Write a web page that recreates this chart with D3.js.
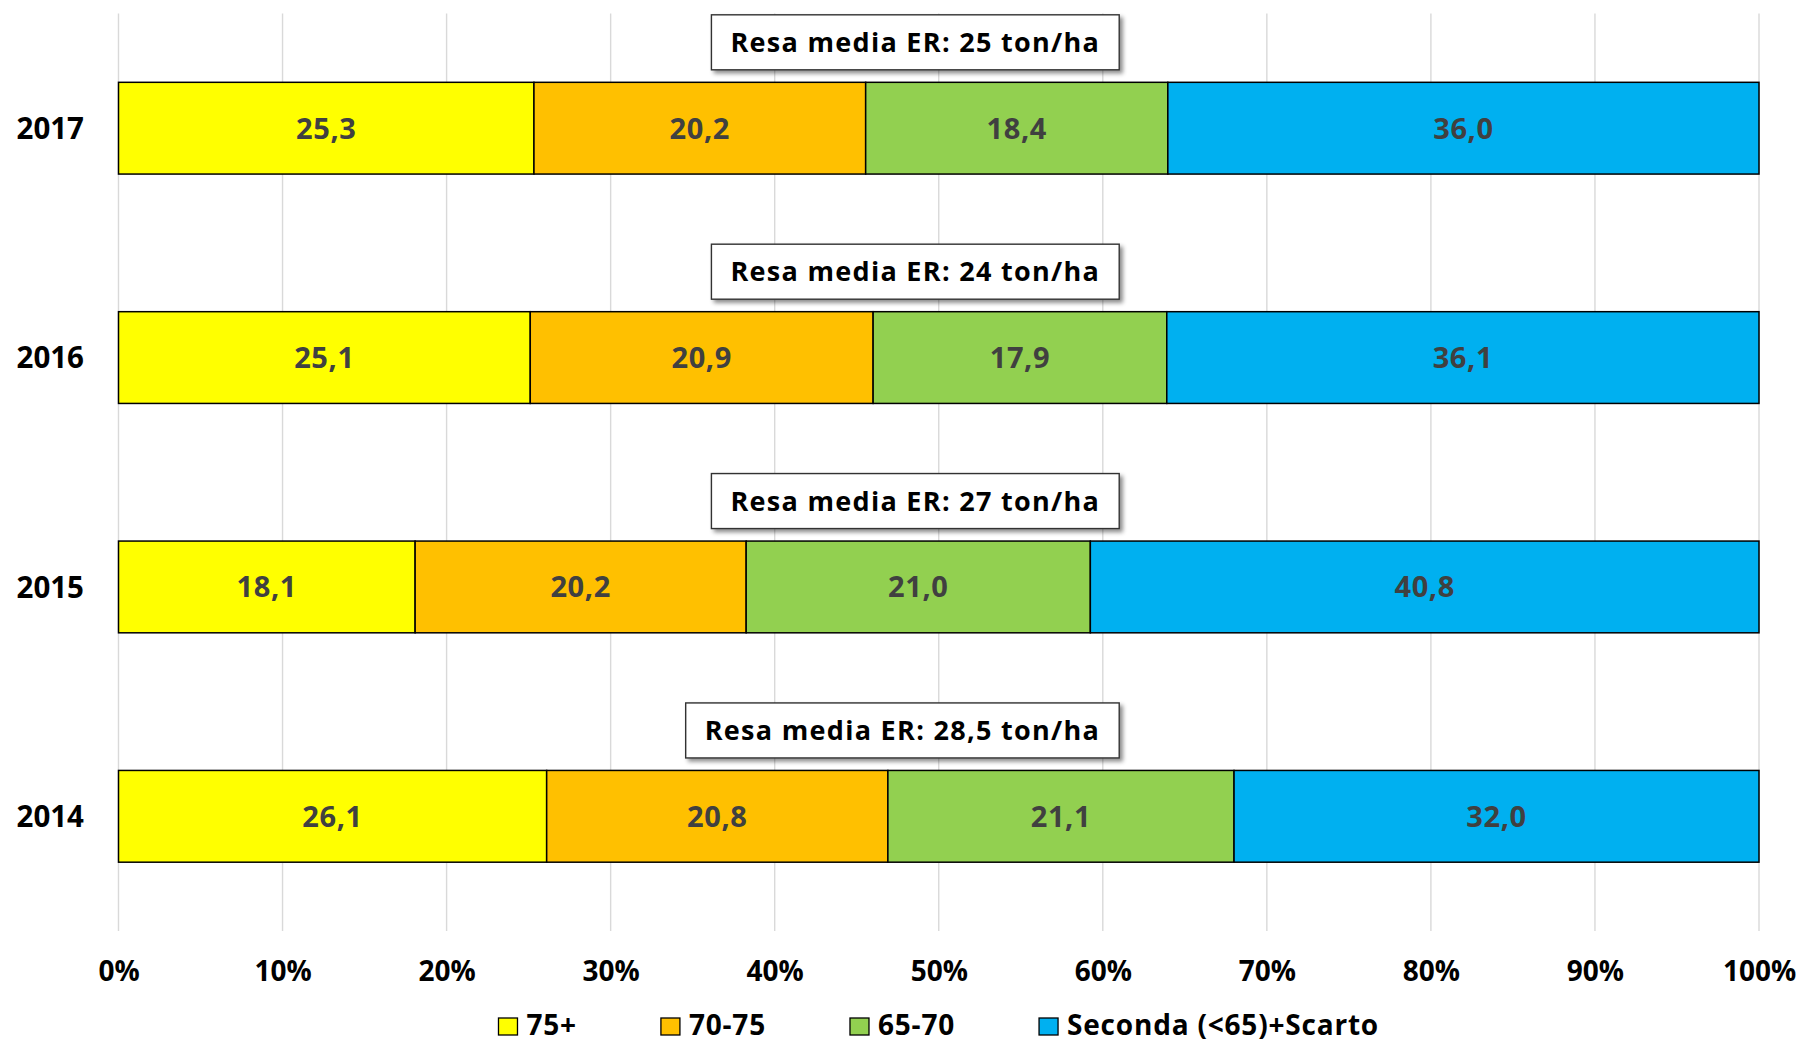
<!DOCTYPE html>
<html>
<head>
<meta charset="utf-8">
<script src="https://cdn.jsdelivr.net/npm/d3@7"></script>
<style>
  html, body { margin: 0; padding: 0; background: #fff; }
  svg { display: block; }
  text { font-family: "Open Sans", Lato, sans-serif; font-weight: 700; }
</style>
</head>
<body>
<svg id="chart" width="1804" height="1044"></svg>
<script>
// ---- data ----
const years = ["2017", "2016", "2015", "2014"];
const seriesNames = ["75+", "70-75", "65-70", "Seconda (<65)+Scarto"];
const s75plus  = [25.3, 25.1, 18.1, 26.1];
const s70to75  = [20.2, 20.9, 20.2, 20.8];
const s65to70  = [18.4, 17.9, 21.0, 21.1];
const sSeconda = [36.0, 36.1, 40.8, 32.0];
const resaLabels = ["Resa media ER: 25 ton/ha", "Resa media ER: 24 ton/ha",
                    "Resa media ER: 27 ton/ha", "Resa media ER: 28,5 ton/ha"];
const xTicks = [0, 10, 20, 30, 40, 50, 60, 70, 80, 90, 100];
const colors = ["#FFFF00", "#FFC000", "#92D050", "#00B0F0"];

// ---- layout ----
const plot = { left: 118.5, right: 1759, top: 13.5, bottom: 931 };
const boxAnchor = 61; // right edge of annotation box, in % units

const svg = d3.select("#chart");
const x = d3.scaleLinear().domain([0, 100]).range([plot.left, plot.right]);
const y = d3.scaleBand().domain(years).range([plot.top, plot.bottom])
  .paddingInner(0.6).paddingOuter(0.3);

const series = [s75plus, s70to75, s65to70, sSeconda];
const table = years.map((yr, i) => {
  const row = { year: yr };
  seriesNames.forEach((n, j) => row[n] = series[j][i]);
  return row;
});
// 100% stacked: normalise each row
const normTable = table.map(r => {
  const tot = d3.sum(seriesNames, n => r[n]);
  const o = { year: r.year };
  seriesNames.forEach(n => o[n] = r[n] / tot * 100);
  o._raw = r;
  return o;
});
const stacked = d3.stack().keys(seriesNames)(normTable);

// defs: shadow
const defs = svg.append("defs");
const f = defs.append("filter").attr("id", "shadow")
  .attr("x", "-10%").attr("y", "-20%").attr("width", "130%").attr("height", "160%");
f.append("feDropShadow").attr("dx", 3).attr("dy", 3).attr("stdDeviation", 2.2)
  .attr("flood-color", "#000").attr("flood-opacity", 0.45);

// gridlines
svg.append("g").selectAll("line").data(xTicks).join("line")
  .attr("x1", d => x(d)).attr("x2", d => x(d))
  .attr("y1", plot.top).attr("y2", plot.bottom)
  .attr("stroke", "#D9D9D9").attr("stroke-width", 1.4);

// x axis labels
const xAxis = d3.axisBottom(x).tickValues(xTicks).tickFormat(d => d + "%").tickSize(0).tickPadding(0);
const gx = svg.append("g").attr("transform", `translate(0,${plot.bottom})`).call(xAxis);
gx.select(".domain").remove();
gx.selectAll("text").attr("dy", null).attr("y", 50)
  .attr("font-size", 28).attr("font-family", "'Open Sans', sans-serif").attr("font-weight", 700)
  .attr("fill", "#000");

// y axis labels
const yAxis = d3.axisLeft(y).tickSize(0).tickPadding(0);
const gy = svg.append("g").attr("transform", `translate(84,0)`).call(yAxis);
gy.select(".domain").remove();
gy.selectAll("text").attr("dy", "0.36em")
  .attr("font-size", 29.5).attr("font-family", "'Open Sans', sans-serif").attr("font-weight", 700)
  .attr("fill", "#000");

// bars
const layers = svg.append("g").selectAll("g").data(stacked).join("g")
  .attr("fill", (d, i) => colors[i]);
layers.selectAll("rect").data(d => d.map(p => ({ p, key: d.key }))).join("rect")
  .attr("x", d => x(d.p[0]))
  .attr("y", d => y(d.p.data.year))
  .attr("width", d => x(d.p[1]) - x(d.p[0]))
  .attr("height", y.bandwidth())
  .attr("stroke", "#000").attr("stroke-width", 1.5);

// data labels
layers.selectAll("text").data(d => d.map(p => ({ p, key: d.key }))).join("text")
  .attr("x", d => (x(d.p[0]) + x(d.p[1])) / 2)
  .attr("y", d => y(d.p.data.year) + y.bandwidth() / 2)
  .attr("dy", "0.36em")
  .attr("text-anchor", "middle")
  .attr("font-size", 29)
  .attr("letter-spacing", 0.6)
  .attr("fill", "#404040")
  .text(d => d3.format(".1f")(d.p.data._raw[d.key]).replace(".", ","));

// annotation boxes
const ann = svg.append("g").selectAll("g").data(years).join("g");
ann.each(function (yr, i) {
  const g = d3.select(this);
  const t = g.append("text")
    .attr("font-size", 27).attr("letter-spacing", 1.3)
    .attr("fill", "#000").attr("text-anchor", "start")
    .text(resaLabels[i]);
  const tw = t.node().getComputedTextLength();
  const bw = tw + 38, bh = 55;
  const right = x(boxAnchor);
  const bottom = y(yr) - 12.5;
  g.insert("rect", "text")
    .attr("x", right - bw).attr("y", bottom - bh)
    .attr("width", bw).attr("height", bh)
    .attr("fill", "#fff").attr("stroke", "#333").attr("stroke-width", 1.4)
    .attr("filter", "url(#shadow)");
  t.attr("x", right - bw + 19).attr("y", bottom - bh / 2).attr("dy", "0.36em");
});

// legend
const legend = svg.append("g");
const items = legend.selectAll("g").data(seriesNames).join("g");
items.append("rect").attr("width", 19).attr("height", 17).attr("y", -17)
  .attr("fill", (d, i) => colors[i]).attr("stroke", "#000").attr("stroke-width", 1.3);
items.append("text").attr("x", 28).attr("y", 0)
  .attr("font-size", 28).attr("letter-spacing", 0.8).attr("fill", "#000").text(d => d);
const widths = [];
items.each(function () {
  widths.push(28 + d3.select(this).select("text").node().getComputedTextLength());
});
const gap = 84;
const total = d3.sum(widths) + gap * (widths.length - 1);
let start = (plot.left + plot.right) / 2 - total / 2;
items.attr("transform", (d, i) => {
  const tx = start; start += widths[i] + gap;
  return `translate(${tx},1035)`;
});
</script>
</body>
</html>
